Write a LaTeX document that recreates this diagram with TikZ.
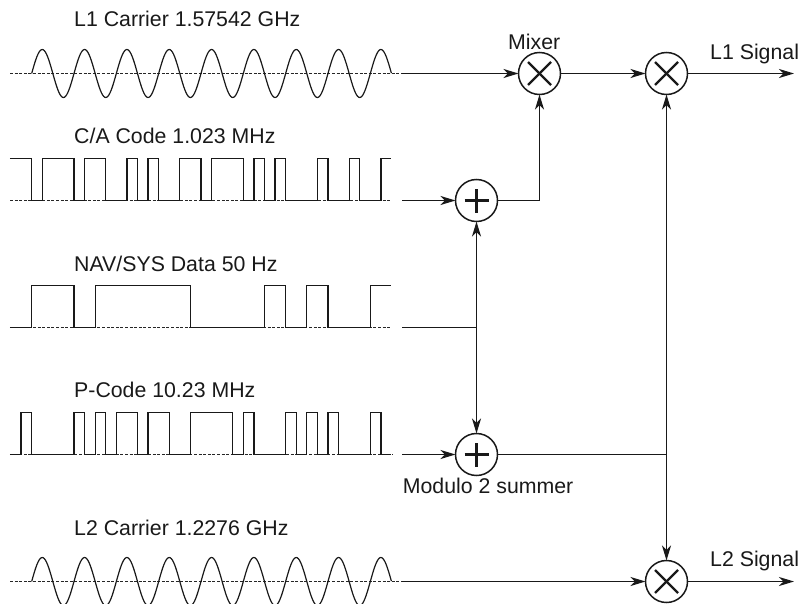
\documentclass[tikz,border=0pt]{standalone}
\usepackage{fontspec}
\setmainfont{Liberation Sans}
\usetikzlibrary{arrows.meta}
\tikzset{
  sig/.style={line width=1.2pt,black!90,line join=miter},
  axisline/.style={line width=1.1pt,black!85,dash pattern=on 3pt off 1.6pt},
  wire/.style={line width=1.5pt,black!90},
  arr/.style={-{Stealth[length=15pt,width=9pt,inset=4.5pt]}},
  block/.style={circle,draw,line width=1.5pt,black!90,minimum size=42pt,inner sep=0pt,outer sep=0pt},
  mixer/.style={block,path picture={
    \draw[line width=2.4pt] (path picture bounding box.center)++(-11.5pt,-11.5pt)--++(23pt,23pt);
    \draw[line width=2.4pt] (path picture bounding box.center)++(-11.5pt,11.5pt)--++(23pt,-23pt);}},
  summer/.style={block,path picture={
    \draw[line width=2.4pt] (path picture bounding box.center)++(-12pt,0pt)--++(24pt,0pt);
    \draw[line width=2.4pt] (path picture bounding box.center)++(0pt,-12pt)--++(0pt,24pt);}},
  lab/.style={anchor=base west,inner sep=0pt,font=\fontsize{21.3pt}{24pt}\selectfont,black!90}
}
\begin{document}
\begin{tikzpicture}[x=1pt,y=-1pt]
\useasboundingbox (0,0) rectangle (799,604);
% labels
\node[lab] (t1) at (74,27) {L1 Carrier 1.57542 GHz};
\node[lab] (t2) at (74,144) {C/A Code 1.023 MHz};
\node[lab] (t3) at (74,271) {NAV/SYS Data 50 Hz};
\node[lab] (t4) at (74,397.3) {P-Code 10.23 MHz};
\node[lab] (t5) at (74,535) {L2 Carrier 1.2276 GHz};
\node[lab] (t6) at (508,49.3) {Mixer};
\node[lab] (t7) at (710,59.3) {L1 Signal};
\node[lab] (t8) at (402.7,493.3) {Modulo 2 summer};
\node[lab] (t9) at (710,566.7) {L2 Signal};
% axes
\draw[axisline] (10,73.5) -- (402,73.5);
\draw[axisline] (10,200.5) -- (390,200.5);
\draw[axisline] (10,327.5) -- (390,327.5);
\draw[axisline] (10,454.5) -- (392,454.5);
\draw[axisline] (10,581.5) -- (402,581.5);
% carriers
\draw[sig] plot[domain=0:8.5,samples=341] ({31.67+42.33*\x},{73.5-24*sin(360*\x)});
\begin{scope}
\clip (0,0) rectangle (799,603.5);
\draw[sig] plot[domain=0:8.5,samples=341] ({31.67+42.33*\x},{581.5-24*sin(360*\x)});
\end{scope}
% codes, x counted in chips
\begin{scope}[x=10.583pt,xshift=31.67pt]
\def\H{158.5}\def\L{200.5}
\draw[sig] (-2.05,\H) -| (0,\L) -| (1,\H) -| (4,\L) -| (5,\H) -| (7,\L) -| (9,\H) -| (10,\L) -| (11,\H) -| (12,\L) -| (14,\H) -| (16,\L) -| (17,\H) -| (20,\L) -| (21,\H) -| (22,\L) -| (23,\H) -| (24,\L) -| (27,\H) -| (28,\L) -| (30,\H) -| (31,\L) -| (33,\H) -- (34,\H);
\def\H{285.5}\def\L{327.5}
\draw[sig] (-2.05,\L) -| (0,\H) -| (4,\L) -| (6,\H) -| (15,\L) -| (22,\H) -| (24,\L) -| (26,\H) -| (28,\L) -| (32,\H) -- (34,\H);
\def\H{412.5}\def\L{454.5}
\draw[sig] (-2.05,\L) -| (-1,\H) -| (0,\L) -| (4,\H) -| (5,\L) -| (6,\H) -| (7,\L) -| (8,\H) -| (10,\L) -| (11,\H) -| (13,\L) -| (15,\H) -| (19,\L) -| (20,\H) -| (21,\L) -| (24,\H) -| (25,\L) -| (26,\H) -| (27,\L) -| (28,\H) -| (29,\L) -| (32,\H) -| (33,\L) -- (34,\L);
\end{scope}
% blocks
\node[mixer] (m1) at (539.5,73.5) {};
\node[mixer] (m2) at (666.5,73.5) {};
\node[mixer] (m3) at (666.5,581.5) {};
\node[summer] (s1) at (476.5,200.5) {};
\node[summer] (s2) at (476.5,454.5) {};
% free ends
\coordinate (i1) at (402,73.5);
\coordinate (i2) at (402,200.5);
\coordinate (i3) at (402,327.5);
\coordinate (i4) at (402,454.5);
\coordinate (i5) at (402,581.5);
\coordinate (j1) at (476.5,327.5);
\coordinate (j2) at (666.5,454.5);
\coordinate (o1) at (794,73.5);
\coordinate (o2) at (794,581.5);
% connectors
\draw[wire,arr] (i1) -- (m1);
\draw[wire,arr] (m1) -- (m2);
\draw[wire,arr] (m2) -- (o1);
\draw[wire,arr] (i2) -- (s1);
\draw[wire,arr] (s1) -| (m1);
\draw[wire] (i3) -- (j1);
\draw[wire,arr] (j1) -- (s1);
\draw[wire,arr] (j1) -- (s2);
\draw[wire,arr] (i4) -- (s2);
\draw[wire] (s2) -- (j2);
\draw[wire,arr] (j2) -- (m2);
\draw[wire,arr] (j2) -- (m3);
\draw[wire,arr] (i5) -- (m3);
\draw[wire,arr] (m3) -- (o2);
\end{tikzpicture}
\end{document}
